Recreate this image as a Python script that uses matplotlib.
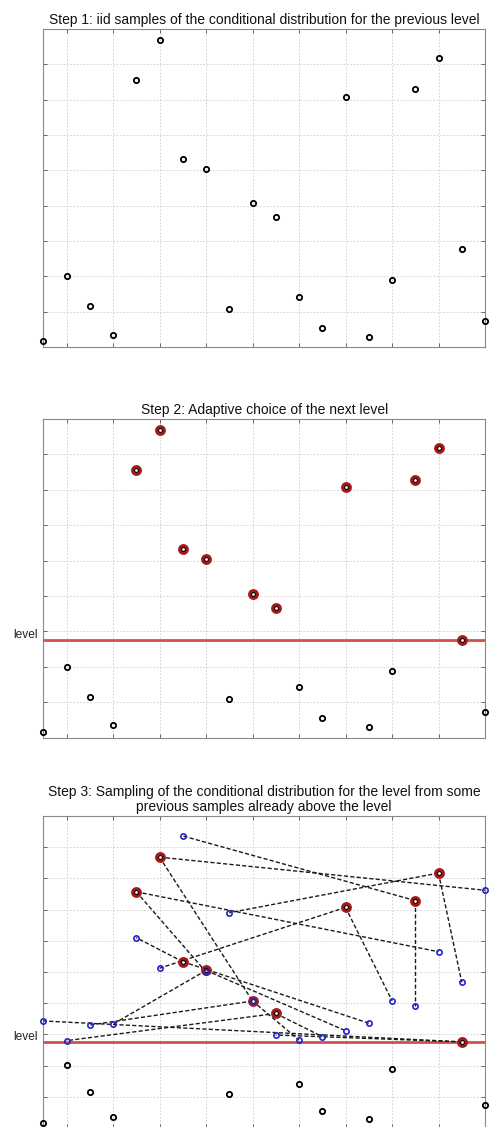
import numpy as np
import matplotlib
matplotlib.use('Agg')
import matplotlib.pyplot as plt
import matplotlib.transforms as mtransforms

plt.rcParams['font.family'] = ['Liberation Sans', 'DejaVu Sans']

x = list(range(1, 21))
samples = [0.17, 2.01, 1.16, 0.35, 7.57, 8.68, 5.33, 5.05, 1.08, 4.07,
           3.67, 1.42, 0.55, 7.07, 0.29, 1.89, 7.29, 8.17, 2.76, 0.73]
new_samples = [3.43, 2.80, 3.30, 3.33, 6.10, 5.12, 9.36, 5.00, 6.90, 4.07,
               2.98, 2.82, 2.93, 3.12, 3.36, 4.08, 3.90, 5.65, 4.67, 7.62]
# x of the old sample each new sample was started from
parents = [19, 11, 10, 8, 7, 14, 17, 5, 18, 6, 19, 10, 11, 8, 7, 14, 17, 5, 18, 6]
n_killed = 10

titles = [
    'Step 1: iid samples of the conditional distribution for the previous level',
    'Step 2: Adaptive choice of the next level',
    'Step 3: Sampling of the conditional distribution for the level from some\n'
    'previous samples already above the level',
]

samples = np.array(samples)
xs = np.array(x)
level = np.sort(samples)[n_killed]
above = samples >= level

W, H = 495, 1127
fig = plt.figure(figsize=(W / 100, H / 100), dpi=100)

left, right = 43.3, 485.0
boxes = [(29, 347, 9), (419, 737.7, 9), (816, 1128, 10)]  # top, bottom, ymax
axes = []
for top, bottom, ymax in boxes:
    ax = fig.add_axes([left / W, 1 - bottom / H, (right - left) / W, (bottom - top) / H])
    ax.set_xlim(1, 20)
    ax.set_ylim(0, ymax)
    ax.set_xticks(range(2, 21, 2))
    ax.set_yticks(range(1, ymax))
    ax.tick_params(direction='in', length=3, width=0.6, color='#555555',
                   top=True, right=True, labelbottom=False, labelleft=False)
    ax.grid(True, color='#cccccc', linestyle=(0, (2, 2)), linewidth=0.6)
    ax.set_axisbelow(True)
    for s in ax.spines.values():
        s.set_color('#8a8a8a')
        s.set_linewidth(0.8)
    axes.append(ax)

for ax, t in zip(axes, titles):
    ax.set_title(t, fontsize=10, pad=3.5, linespacing=1.12, color='#111111')

black = dict(linestyle='none', marker='o', ms=3.8, mew=1.3, mfc='none', mec='black', clip_on=False, zorder=4)
red_ring = dict(linestyle='none', marker='o', ms=5.8, mew=2.0, mfc='none', mec='#a81818', clip_on=False, zorder=5)
red_core = dict(linestyle='none', marker='o', ms=3.0, mew=1.0, mfc='white', mec='#200000', clip_on=False, zorder=6)
blue = dict(linestyle='none', marker='o', ms=3.8, mew=1.2, mfc='none', mec='#2424c8', clip_on=False, zorder=7)

# step 1
axes[0].plot(xs, samples, **black)

# step 2 and 3
for ax in axes[1:]:
    ax.axhline(level, color='#d2504c', lw=2.0, zorder=3)
    ax.plot(xs[~above], samples[~above], **black)
    ax.plot(xs[above], samples[above], **red_ring)
    ax.plot(xs[above], samples[above], **red_core)
    off = mtransforms.ScaledTranslation(0, 5 / 100, fig.dpi_scale_trans)
    tr = mtransforms.blended_transform_factory(ax.transAxes, ax.transData) + off
    ax.text(-0.0115, level, 'level', transform=tr, ha='right', va='center', fontsize=8.6, color='#222222')

ax = axes[2]
for xi, yi, p in zip(xs, new_samples, parents):
    ax.plot([p, xi], [samples[p - 1], yi], color='#1a1a1a', lw=1.0,
            linestyle=(0, (3, 1.6)), zorder=4, clip_on=False)
ax.plot(xs, new_samples, **blue)

fig.savefig('out.png', dpi=100)
